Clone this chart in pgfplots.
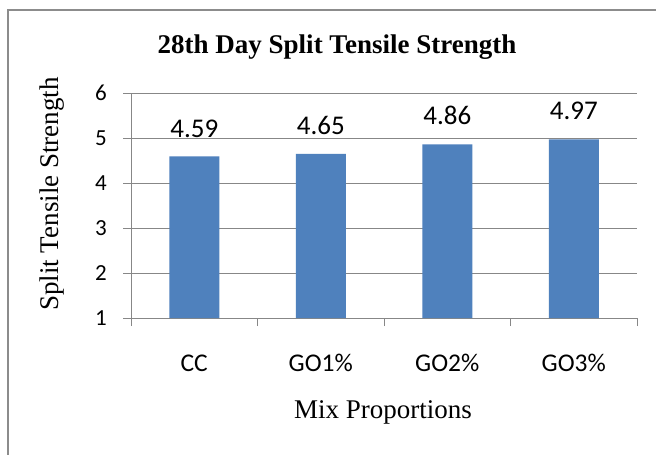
\documentclass[border=0pt]{standalone}
\usepackage{pgfplots}
\pgfplotsset{compat=1.18}
\usepackage{fontspec}
\setmainfont{Liberation Serif}
\newfontfamily\calibri{Carlito}
\definecolor{barblue}{HTML}{4F81BD}
\definecolor{axisgray}{HTML}{878787}
\definecolor{framegray}{HTML}{8C8C8C}

\begin{document}
\begin{tikzpicture}[x=1bp,y=1bp]
\useasboundingbox (0,0) rectangle (656,-455);
\fill[white] (0,0) rectangle (656,-455);
% outer chart frame (only the left and top edges fall inside the page)
\draw[framegray, line width=2.2bp] (8,-460) -- (8,-10) -- (660,-10);

\begin{axis}[
  at={(131bp,-318bp)}, anchor=south west,
  scale only axis, width=506bp, height=225bp,
  xmin=-0.5, xmax=3.5, ymin=1, ymax=6,
  axis x line*=bottom, axis y line*=left,
  axis line style={axisgray, line width=0.9bp, -},
  tick align=outside,
  major tick length=8bp,
  tick style={axisgray, line width=0.9bp},
  ytick={1,...,6},
  xtick={-0.5,0.5,1.5,2.5,3.5},
  xticklabels={},
  extra x ticks={0,1,2,3},
  extra x tick labels={CC,GO1\%,GO2\%,GO3\%},
  extra x tick style={major tick length=0bp},
  ymajorgrids,
  grid style={axisgray, line width=0.9bp},
  /pgf/number format/assume math mode=true,
  yticklabel style={font=\calibri\fontsize{23bp}{27bp}\selectfont, anchor=east, inner sep=0pt, xshift=-16bp},
  xticklabel style={font=\calibri\fontsize{25.5bp}{30bp}\selectfont, anchor=base, inner sep=0pt, yshift=-53bp},
]
\addplot[ybar, bar width=50bp, fill=barblue, draw=none,
  nodes near coords,
  nodes near coords style={font=\calibri\fontsize{27bp}{31bp}\selectfont, anchor=south, inner sep=0pt, yshift=19bp, text=black},
  /pgf/number format/.cd, fixed, precision=2]
  coordinates {(0,4.59) (1,4.65) (2,4.86) (3,4.97)};
\end{axis}

\node[font=\bfseries\fontsize{27bp}{31bp}\selectfont] at (337,-47) {28th Day Split Tensile Strength};
\node[font=\fontsize{27bp}{31bp}\selectfont] at (383,-412) {Mix Proportions};
\node[font=\fontsize{27bp}{31bp}\selectfont, rotate=90] at (52,-194) {Split Tensile Strength};
\end{tikzpicture}
\end{document}
